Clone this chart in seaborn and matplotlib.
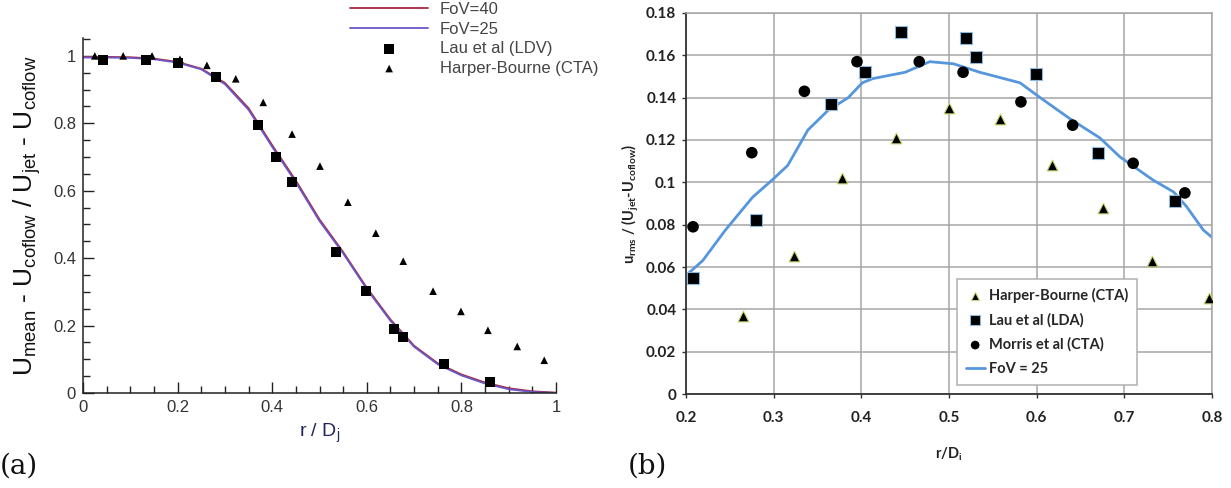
import numpy as np
import pandas as pd
import matplotlib
matplotlib.use("Agg")
import matplotlib.pyplot as plt
import seaborn as sns
from matplotlib.ticker import MultipleLocator, FuncFormatter

# ---- panel (a): mean velocity profile ----
r_fov = [0.0, 0.05, 0.1, 0.15, 0.2, 0.25, 0.3, 0.35, 0.4, 0.45, 0.5,
         0.55, 0.6, 0.65, 0.7, 0.75, 0.8, 0.85, 0.9, 0.95, 1.0]
fov40_a = [0.997, 0.997, 0.996, 0.992, 0.982, 0.962, 0.920, 0.845, 0.735, 0.630, 0.515,
           0.418, 0.312, 0.218, 0.140, 0.088, 0.055, 0.031, 0.014, 0.005, 0.001]
fov25_a = [0.995, 0.995, 0.994, 0.990, 0.980, 0.960, 0.916, 0.840, 0.730, 0.625, 0.510,
           0.414, 0.308, 0.214, 0.137, 0.085, 0.052, 0.028, 0.011, 0.003, 0.000]

lau_r = [0.042, 0.133, 0.201, 0.281, 0.370, 0.408, 0.442, 0.535, 0.598, 0.657, 0.677, 0.763, 0.860]
lau_u = [0.988, 0.988, 0.979, 0.938, 0.795, 0.700, 0.626, 0.418, 0.303, 0.190, 0.166, 0.086, 0.033]

hb_r = [0.025, 0.085, 0.146, 0.205, 0.262, 0.323, 0.381, 0.442, 0.501, 0.560,
        0.619, 0.677, 0.740, 0.799, 0.856, 0.918, 0.975]
hb_u = [1.0, 1.0, 1.0, 0.99, 0.972, 0.932, 0.862, 0.768, 0.673, 0.566,
        0.474, 0.391, 0.302, 0.242, 0.186, 0.138, 0.097]

# ---- panel (b): rms velocity profile ----
fov_r_b = [0.200, 0.219, 0.245, 0.276, 0.298, 0.316, 0.339, 0.362, 0.385, 0.401, 0.413,
           0.450, 0.478, 0.505, 0.535, 0.581, 0.604, 0.638, 0.672, 0.695, 0.733,
           0.756, 0.771, 0.790, 0.800]
fov_u_b = [0.056, 0.063, 0.0775, 0.093, 0.101, 0.108, 0.1247, 0.134, 0.140, 0.147, 0.149,
           0.152, 0.157, 0.156, 0.152, 0.147, 0.140, 0.130, 0.121, 0.112, 0.101,
           0.0955, 0.0885, 0.0775, 0.074]

hb_r_b = [0.265, 0.323, 0.378, 0.440, 0.500, 0.558, 0.617, 0.676, 0.732, 0.796]
hb_u_b = [0.037, 0.065, 0.102, 0.121, 0.135, 0.130, 0.108, 0.088, 0.063, 0.0455]

lau_r_b = [0.208, 0.280, 0.365, 0.404, 0.445, 0.519, 0.531, 0.599, 0.670, 0.758]
lau_u_b = [0.055, 0.082, 0.137, 0.152, 0.171, 0.168, 0.159, 0.151, 0.114, 0.091]

mor_r_b = [0.208, 0.275, 0.335, 0.395, 0.466, 0.516, 0.582, 0.641, 0.710, 0.769]
mor_u_b = [0.079, 0.114, 0.143, 0.157, 0.157, 0.152, 0.138, 0.127, 0.109, 0.095]

sns.set_style("white")
plt.rcParams['mathtext.default'] = 'regular'

fig = plt.figure(figsize=(12.31, 4.88), dpi=100)
ax1 = fig.add_axes([0.0674, 0.1947, 0.3843, 0.7274])
ax2 = fig.add_axes([0.5573, 0.1926, 0.4273, 0.7808])

fmt = FuncFormatter(lambda v, p: f"{v:g}")

# panel (a)
sns.lineplot(x=r_fov, y=fov40_a, color='#a8283f', lw=1.3, label='FoV=40', ax=ax1)
sns.lineplot(x=r_fov, y=fov25_a, color='#6a58c8', lw=1.3, label='FoV=25', ax=ax1)
sns.scatterplot(x=lau_r, y=lau_u, marker='s', s=50, color='k', edgecolor='none',
                label='Lau et al (LDV)', ax=ax1, zorder=3)
sns.scatterplot(x=hb_r, y=hb_u, marker='^', s=30, color='k', edgecolor='none',
                label='Harper-Bourne (CTA)', ax=ax1, zorder=3)

ax1.set_xlim(0, 1)
ax1.set_ylim(0, 1.053)
for axis in (ax1.xaxis, ax1.yaxis):
    axis.set_major_locator(MultipleLocator(0.2))
    axis.set_minor_locator(MultipleLocator(0.05))
    axis.set_major_formatter(fmt)
ax1.tick_params(which='major', direction='in', length=8, width=1, color='#222',
                labelsize=12, labelcolor='#333', pad=5, left=True, bottom=True)
ax1.tick_params(which='minor', direction='in', length=5, width=1, color='#222',
                left=True, bottom=True)
for lab in ax1.get_xticklabels() + ax1.get_yticklabels():
    lab.set_family('Liberation Sans')
sns.despine(ax=ax1)
for s in ('left', 'bottom'):
    ax1.spines[s].set_color('#222')
    ax1.spines[s].set_linewidth(1.1)

ax1.set_ylabel(r'$U_{mean}$ - $U_{coflow}$ / $U_{jet}$ - $U_{coflow}$',
               fontsize=19, family='Liberation Sans', color='#111')
ax1.yaxis.set_label_coords(-0.085, 0.5)
ax1.set_xlabel(r'r / $D_j$', fontsize=14, family='Liberation Sans', color='#22245e')
ax1.xaxis.set_label_coords(0.5, -0.08)

ax1.legend(loc='upper left', bbox_to_anchor=(0.2843, 0.996), bbox_transform=fig.transFigure,
           frameon=False, handlelength=4.7, handletextpad=0.7, labelspacing=0.28,
           borderpad=0, borderaxespad=0,
           prop={'family': 'Liberation Sans', 'size': 12}, labelcolor='#444')

# panel (b)
sns.scatterplot(x=hb_r_b, y=hb_u_b, marker='^', s=60, color='k', edgecolor='#c9d66e',
                linewidth=0.8, label='Harper-Bourne (CTA)', ax=ax2, zorder=3)
sns.scatterplot(x=lau_r_b, y=lau_u_b, marker='s', s=80, color='k', edgecolor='#8fb8df',
                linewidth=0.8, label='Lau et al (LDA)', ax=ax2, zorder=3)
sns.scatterplot(x=mor_r_b, y=mor_u_b, marker='o', s=70, color='k', edgecolor='none',
                label='Morris et al (CTA)', ax=ax2, zorder=3)
sns.lineplot(x=fov_r_b, y=fov_u_b, color='#5596dc', lw=2, label='FoV = 25', ax=ax2, zorder=2)

ax2.set_xlim(0.2, 0.8)
ax2.set_ylim(0, 0.18)
ax2.xaxis.set_major_locator(MultipleLocator(0.1))
ax2.yaxis.set_major_locator(MultipleLocator(0.02))
ax2.xaxis.set_major_formatter(fmt)
ax2.yaxis.set_major_formatter(fmt)
ax2.grid(True, color='#a6a6a6', lw=1.1)
ax2.set_axisbelow(True)
for s in ax2.spines.values():
    s.set_color('#a6a6a6')
    s.set_linewidth(1.1)
for s in ('left', 'bottom'):
    ax2.spines[s].set_color('#333')
    ax2.spines[s].set_linewidth(1.3)
ax2.tick_params(direction='out', length=3, width=1, color='#333', labelsize=11,
                labelcolor='#222', left=True, bottom=True)
ax2.tick_params(axis='y', pad=4)
ax2.tick_params(axis='x', pad=9)
for lab in ax2.get_xticklabels() + ax2.get_yticklabels():
    lab.set_family('Lato')
    lab.set_weight('bold')

ax2.set_xlabel(r'r/$D_i$', fontsize=10.5, family='Lato', fontweight='bold', color='#222')
ax2.xaxis.set_label_coords(0.5, -0.135)
ax2.set_ylabel(r'$u_{rms}$ / ($U_{jet}$-$U_{coflow}$)', fontsize=10.5, family='Lato',
               fontweight='bold', color='#222')
ax2.yaxis.set_label_coords(-0.085, 0.5)

leg = ax2.legend(loc='lower left', bbox_to_anchor=(0.515, 0.024), borderaxespad=0,
                 fancybox=False, edgecolor='#b0b0b0', framealpha=1, markerscale=0.75,
                 handlelength=1.3, handletextpad=0.3, labelspacing=0.7, borderpad=0.6,
                 prop={'family': 'Lato', 'weight': 'bold', 'size': 10.5})
leg.get_frame().set_linewidth(1.1)

# panel tags
fig.text(0.0, 0.03, '(a)', fontsize=20, family='DejaVu Serif', color='#111')
fig.text(0.510, 0.03, '(b)', fontsize=20, family='DejaVu Serif', color='#111')

fig.savefig('out.png', dpi=100)
